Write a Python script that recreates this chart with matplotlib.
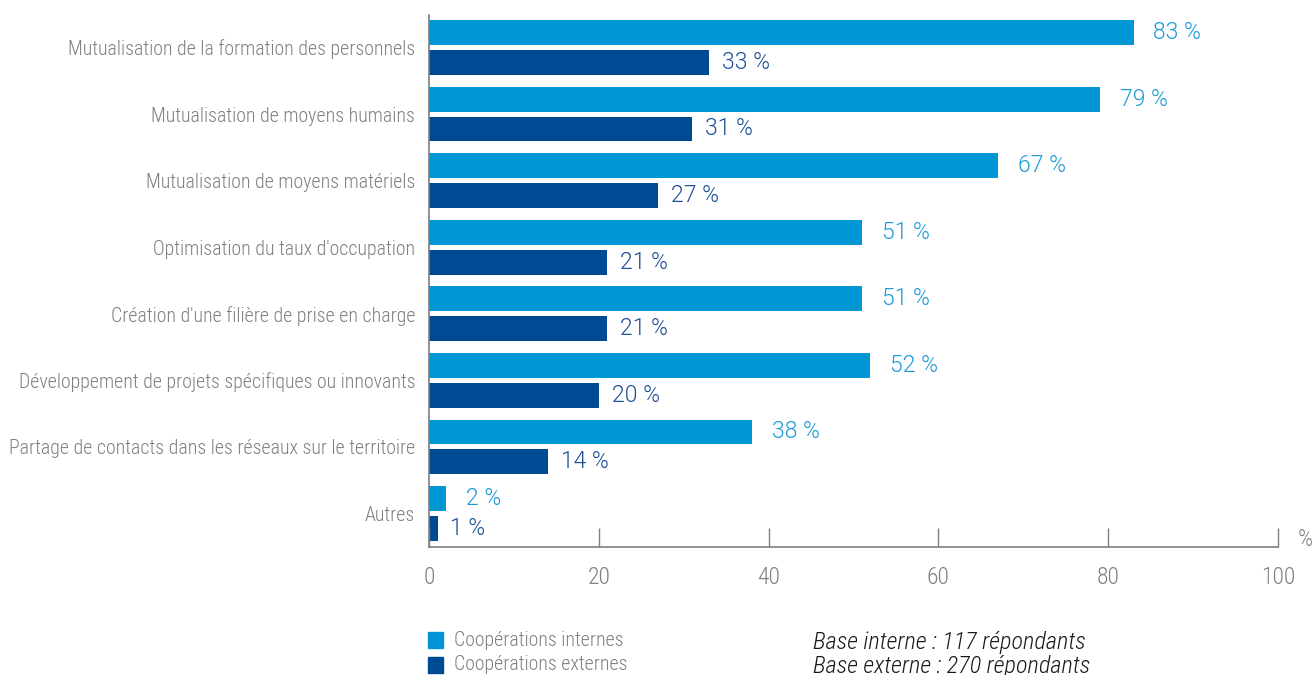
import matplotlib.pyplot as plt
import numpy as np
from matplotlib.patches import Rectangle

categories = [
    "Mutualisation de la formation des personnels",
    "Mutualisation de moyens humains",
    "Mutualisation de moyens matériels",
    "Optimisation du taux d'occupation",
    "Création d'une filière de prise en charge",
    "Développement de projets spécifiques ou innovants",
    "Partage de contacts dans les réseaux sur le territoire",
    "Autres",
]
internes = [83, 79, 67, 51, 51, 52, 38, 2]
externes = [33, 31, 27, 21, 21, 20, 14, 1]
xticks = [0, 20, 40, 60, 80, 100]

c_int = "#0096D6"
c_ext = "#004A93"
grey = "#7f7f7f"

plt.rcParams['font.family'] = ['Roboto Condensed', 'DejaVu Sans']
plt.rcParams['font.weight'] = 300

fig = plt.figure(figsize=(13.16, 6.75), dpi=100)
ax = fig.add_axes([0.326, 0.19, 0.645, 0.788])

y = np.arange(len(categories))
h = 0.373
off = 0.224
ax.barh(y - off, internes, height=h, color=c_int)
ax.barh(y + off, externes, height=h, color=c_ext)

# value labels use the wider face
vfont = dict(family=["Roboto", "DejaVu Sans"], weight=300, fontsize=16.5)
for yi, v in zip(y, internes):
    ax.text(v + 2.35, yi - off, f"{v} %", va="center", ha="left", color="#1a9ad8", **vfont)
for yi, v in zip(y, externes):
    ax.text(v + 1.5, yi + off, f"{v} %", va="center", ha="left", color="#1d4f95", **vfont)

ax.set_xlim(0, 100)
ax.set_ylim(7.5, -0.49)
ax.set_yticks(y)
ax.set_yticklabels(categories, fontsize=14.3, color=grey)
ax.tick_params(axis="y", length=0, pad=10)
ax.set_xticks(xticks)
ax.set_xticklabels([str(t) for t in xticks], fontsize=17, color=grey)
ax.tick_params(axis="x", direction="in", length=14, width=1, color=grey, pad=14)

for side in ["top", "right"]:
    ax.spines[side].set_visible(False)
for side in ["left", "bottom"]:
    ax.spines[side].set_color(grey)
    ax.spines[side].set_linewidth(1.2)

fig.text(1305 / 1316, 1 - 540 / 675, "%", fontsize=17, color=grey, ha="center", va="center")

# legend drawn by hand below the axis
for i, (lab, col) in enumerate([("Coopérations internes", c_int), ("Coopérations externes", c_ext)]):
    yc = 1 - (640 + 25 * i) / 675
    fig.patches.append(Rectangle((428 / 1316, yc - 8 / 675), 15 / 1316, 16 / 675,
                                 transform=fig.transFigure, color=col))
    fig.text(454 / 1316, yc, lab, fontsize=14.3, color=grey, va="center", ha="left")

fig.text(813 / 1316, 1 - 642 / 675, "Base interne : 117 répondants", fontsize=17.5,
         style="italic", weight=300, color="#1a1a1a", va="center", ha="left")
fig.text(813 / 1316, 1 - 667 / 675, "Base externe : 270 répondants", fontsize=17.5,
         style="italic", weight=300, color="#1a1a1a", va="center", ha="left")

fig.savefig("out.png", dpi=100)
